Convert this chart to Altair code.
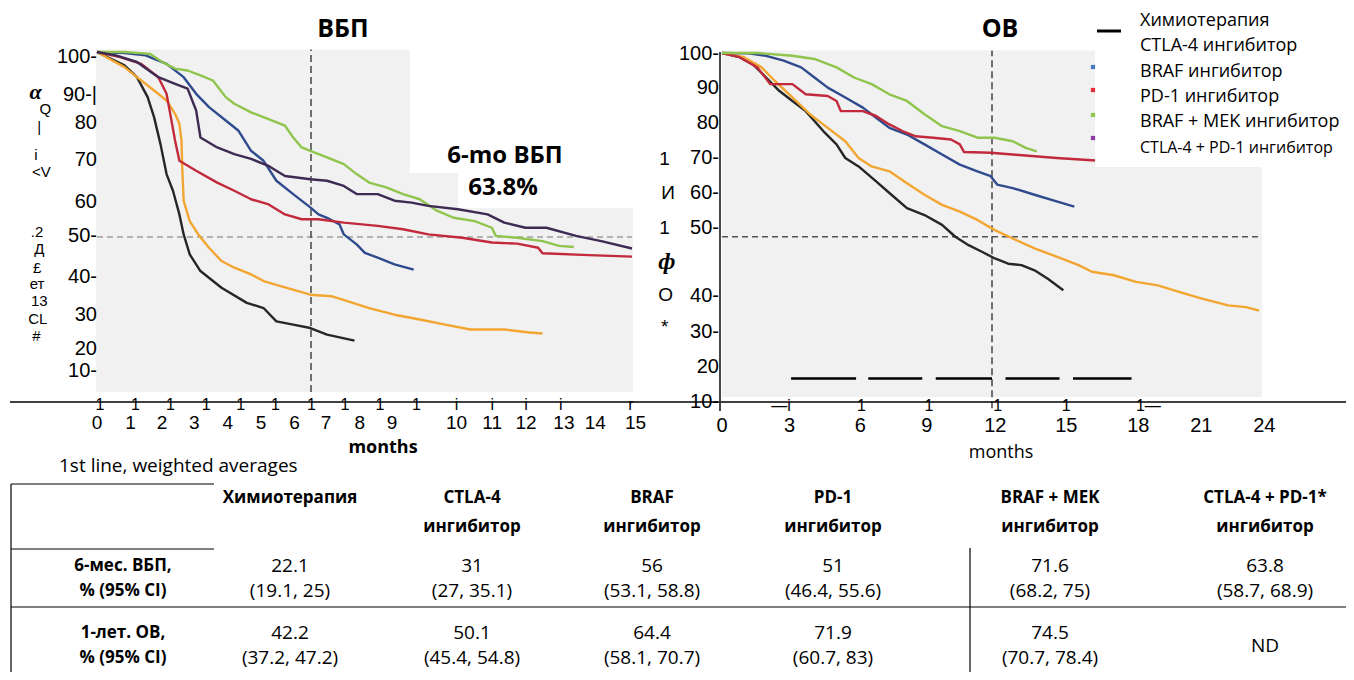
import altair as alt
import pandas as pd

# ---------------- data ----------------
SERIES = ["Химиотерапия", "CTLA-4 ингибитор", "BRAF ингибитор", "PD-1 ингибитор",
          "BRAF + MEK ингибитор", "CTLA-4 + PD-1 ингибитор"]
LINE_COLORS = ["#262626", "#f2a631", "#2f4b8e", "#c22a3c", "#8fc44d", "#3e2b54"]
MARKER_COLORS = ["#4a78c0", "#e0303a", "#92c850", "#8a3aa0"]

# ВБП (PFS), months / %
PFS_CHEMO_M = [0, 0.77, 1.12, 1.42, 1.60, 1.78, 1.95, 2.13, 2.31, 2.43, 2.60, 2.90, 3.49, 4.20, 4.67, 5.03, 5.50, 5.98, 6.45, 7.22]
PFS_CHEMO_V = [100, 96.4, 93.2, 87.8, 82.4, 75.1, 67.0, 62.5, 56.1, 50.7, 45.3, 40.8, 36.3, 32.2, 30.8, 27.2, 26.3, 25.4, 23.6, 22.0]
PFS_CTLA4_M = [0, 0.77, 1.12, 1.60, 1.95, 2.19, 2.31, 2.37, 2.39, 2.43, 2.60, 2.84, 3.14, 3.49, 3.85, 4.32, 4.67, 5.15, 5.98, 6.57, 7.04, 7.63, 8.34, 9.05, 9.76, 10.47, 11.42, 12.13, 12.49]
PFS_CTLA4_V = [100, 95.9, 93.2, 89.6, 86.9, 83.3, 80.6, 76.0, 68.8, 59.8, 54.3, 50.7, 47.1, 43.5, 41.7, 39.9, 38.1, 36.7, 34.4, 34.0, 32.6, 30.8, 29.0, 27.7, 26.3, 25.0, 25.0, 24.2, 23.9]
PFS_BRAF_M = [0, 0.77, 1.36, 1.95, 2.43, 2.78, 3.14, 3.61, 3.96, 4.32, 4.67, 5.03, 5.50, 5.98, 6.21, 6.45, 6.80, 6.92, 7.28, 7.51, 7.87, 8.34, 8.88]
PFS_BRAF_V = [100, 99.7, 99.1, 96.8, 93.2, 88.7, 85.1, 81.5, 78.8, 73.3, 70.6, 65.2, 61.6, 58.0, 56.1, 55.2, 53.4, 50.7, 48.0, 45.7, 44.4, 42.6, 41.2]
PFS_PD1_M = [0, 0.65, 1.24, 1.72, 1.95, 2.07, 2.19, 2.31, 2.78, 3.37, 3.85, 4.32, 4.79, 5.27, 5.74, 6.21, 6.92, 7.87, 8.58, 9.29, 10.24, 11.07, 11.78, 12.37, 12.49, 13.79, 15.0]
PFS_PD1_V = [100, 98.6, 96.8, 93.2, 88.7, 82.4, 76.0, 70.6, 67.9, 64.7, 62.5, 60.2, 58.9, 56.1, 54.8, 54.8, 53.9, 53.0, 52.1, 50.7, 49.8, 48.5, 48.2, 47.1, 45.6, 45.1, 44.7]
PFS_BRAFMEK_M = [0, 0.77, 1.48, 1.83, 2.19, 2.54, 2.90, 3.25, 3.61, 3.85, 4.32, 4.79, 5.27, 5.50, 5.74, 5.98, 6.45, 6.92, 7.28, 7.63, 8.11, 8.58, 9.05, 9.53, 10.0, 10.59, 11.07, 11.18, 11.78, 12.49, 12.96, 13.37]
PFS_BRAFMEK_V = [100, 100, 99.5, 97.3, 95.5, 95.0, 93.7, 92.3, 87.8, 86.0, 83.7, 81.9, 80.1, 76.9, 74.2, 73.3, 71.5, 69.7, 67.0, 64.7, 63.4, 61.6, 60.2, 57.1, 55.2, 54.3, 52.5, 50.3, 49.8, 48.9, 47.6, 47.3]
PFS_COMBO_M = [0, 0.53, 1.12, 1.72, 2.19, 2.54, 2.78, 2.90, 3.37, 3.85, 4.32, 4.79, 5.27, 5.98, 6.45, 6.92, 7.28, 7.87, 8.34, 8.82, 9.29, 10.12, 10.95, 11.42, 12.01, 12.60, 13.43, 14.14, 15.0]
PFS_COMBO_V = [100, 99.1, 97.3, 93.2, 91.4, 90.1, 84.2, 76.9, 74.2, 72.4, 71.1, 69.3, 66.5, 65.6, 65.2, 63.8, 61.6, 61.6, 59.8, 59.3, 58.4, 57.5, 56.1, 53.9, 52.5, 52.5, 50.3, 48.9, 46.9]

# ОВ (OS), months / %
OS_CHEMO_M = [0, 0.78, 1.37, 1.96, 2.54, 3.13, 3.72, 4.50, 5.09, 5.48, 6.07, 6.85, 7.44, 8.22, 9.0, 9.78, 10.37, 10.96, 11.55, 12.13, 12.72, 13.31, 13.89, 14.48, 15.17]
OS_CHEMO_V = [100, 98.8, 96.8, 93.0, 89.2, 86.3, 83.4, 77.7, 73.9, 70.0, 67.6, 63.3, 60.0, 55.7, 53.7, 50.9, 47.5, 45.1, 43.2, 41.3, 39.8, 39.4, 37.9, 35.5, 32.2]
OS_CTLA4_M = [0, 0.98, 1.76, 2.35, 3.13, 3.91, 4.70, 5.48, 6.07, 6.65, 7.44, 8.22, 9.0, 9.78, 10.57, 11.35, 12.13, 12.92, 13.89, 14.87, 15.85, 16.44, 17.42, 18.40, 19.37, 20.35, 21.33, 22.50, 23.29, 23.87]
OS_CTLA4_V = [100, 98.8, 95.9, 92.0, 87.3, 82.5, 78.6, 74.8, 70.0, 67.6, 66.2, 62.8, 59.5, 56.6, 54.7, 52.3, 49.4, 47.0, 44.2, 41.8, 39.4, 37.5, 36.5, 34.6, 33.6, 31.7, 29.8, 27.9, 27.4, 26.4]
OS_BRAF_M = [0, 1.17, 1.96, 2.74, 3.52, 4.11, 4.70, 5.48, 6.26, 6.85, 7.44, 8.22, 9.0, 9.78, 10.57, 11.35, 11.94, 12.23, 12.92, 13.89, 14.87, 15.66]
OS_BRAF_V = [100, 99.9, 99.2, 97.8, 95.9, 93.0, 90.1, 87.3, 84.4, 81.5, 78.6, 76.7, 73.9, 71.0, 68.1, 66.2, 64.8, 62.4, 61.4, 59.5, 57.6, 56.1]
OS_PD1_M = [0, 0.78, 1.57, 2.15, 3.13, 3.72, 4.70, 5.09, 5.28, 6.26, 6.85, 7.44, 8.02, 8.61, 9.39, 10.18, 10.57, 10.76, 11.94, 12.92, 14.87, 16.6]
OS_PD1_V = [100, 98.8, 95.9, 91.1, 91.1, 88.2, 87.7, 86.3, 83.4, 83.4, 82.0, 79.6, 77.7, 76.2, 75.8, 75.3, 73.9, 71.7, 71.5, 71.0, 70.0, 69.3]
OS_BRAFMEK_M = [0, 1.57, 3.13, 4.11, 5.09, 5.87, 6.65, 7.44, 8.22, 9.0, 9.78, 10.57, 11.35, 12.13, 12.92, 13.50, 13.99]
OS_BRAFMEK_V = [100, 100, 99.2, 98.3, 95.9, 93.0, 91.1, 88.2, 86.3, 82.5, 79.1, 77.7, 75.8, 75.8, 74.8, 72.9, 71.9]

# axis tick labels (as they appear in the picture)
L_X_LABELS = [str(i) for i in range(16)]
L_X_LABEL_POS = [0, 0.94, 1.82, 2.73, 3.67, 4.6, 5.54, 6.42, 7.37, 8.27, 10.08, 11.08, 12.03, 13.09, 13.97, 15.1]
L_X_MARKS = ["1"] * 10 + ["i"] * 4 + ["r"]
L_X_MARK_POS = [0.08, 1.08, 2.06, 3.06, 4.03, 5.0, 6.01, 6.95, 7.93, 8.96, 10.08, 11.08, 12.03, 13.0, 14.97]
L_Y_LABELS = ["100-", "90-|", "80", "70", "60", "50-", "40-", "30", "20", "10-"]
L_Y_LABEL_POS = [98.6, 88.4, 80.7, 70.8, 59.5, 50.2, 39.3, 28.9, 19.6, 13.9]
L_GLYPHS = ["Q", "|", "i", "<V", ".2", "Д", "£", "ет", "13", "CL", "#"]
L_GLYPH_M = [-1.45, -1.62, -1.71, -1.56, -1.68, -1.62, -1.68, -1.68, -1.62, -1.66, -1.7]
L_GLYPH_V = [84.6, 79.6, 72.2, 67.6, 51.4, 46.8, 41.6, 37.2, 32.6, 27.9, 23.2]

R_X_LABELS = ["0", "3", "6", "9", "12", "15", "18", "21", "24"]
R_X_LABEL_POS = [0, 3.0, 6.15, 9.1, 12.15, 15.3, 18.5, 21.3, 24.1]
R_X_MARKS = ["—i", "1", "1", "1", "1", "1—"]
R_X_MARK_POS = [2.62, 6.2, 9.2, 12.25, 15.3, 18.95]
R_Y_LABELS = ["100-", "90", "80", "70-", "60-", "50-", "40-", "30-", "20", "10-"]
R_Y_LABEL_POS = [99.6, 89.9, 79.9, 69.9, 60.1, 49.9, 30.6, 20.4, 10.4, 0.2]
R_GLYPHS = ["1", "И", "1", "О", "*"]
R_GLYPH_M = [-2.55, -2.4, -2.55, -2.5, -2.55]
R_GLYPH_V = [69.8, 60.1, 49.9, 30.8, 21.8]
R_DASH_M1 = [3.07, 6.5, 9.5, 12.6, 15.6]
R_DASH_M2 = [5.96, 8.9, 12.0, 15.0, 18.2]

TABLE_HEAD_1 = ["Химиотерапия", "CTLA-4", "BRAF", "PD-1", "BRAF + MEK", "CTLA-4 + PD-1*"]
TABLE_HEAD_2 = ["", "ингибитор", "ингибитор", "ингибитор", "ингибитор", "ингибитор"]
ROW_LABELS = ["6-мес. ВБП,", "% (95% CI)", "1-лет. ОВ,", "% (95% CI)"]
PFS6 = ["22.1", "31", "56", "51", "71.6", "63.8"]
PFS6_CI = ["(19.1, 25)", "(27, 35.1)", "(53.1, 58.8)", "(46.4, 55.6)", "(68.2, 75)", "(58.7, 68.9)"]
OS12 = ["42.2", "50.1", "64.4", "71.9", "74.5", "ND"]
OS12_CI = ["(37.2, 47.2)", "(45.4, 54.8)", "(58.1, 70.7)", "(60.7, 83)", "(70.7, 78.4)", ""]

# ---------------- layout ----------------
OFF = 8
W, H = 1338, 664
NARROW = "Liberation Sans Narrow, Arial Narrow, Liberation Sans, sans-serif"
SANS = "Open Sans, Noto Sans, sans-serif"


def lin(d0, d1, r0, r1):
    return alt.Scale(domain=[d0, d1], range=[r0 - OFF, r1 - OFF], nice=False, zero=False)


LX = lin(0, 15, 97, 632)
LY = lin(0, 100, 422, 52)
RX = lin(0, 24, 722, 1262)
RY = lin(0, 100, 403, 53)
PX = lin(0, 1354, 0, 1354)
PY = lin(0, 680, 0, 680)

COL_X = [290, 472, 652, 833, 1050, 1265]
LABEL_X = 123
Y_HEAD = (498, 527)
Y_ROW1 = (566, 591)
Y_ROW2 = (633, 658)
LEG_X = 1140
LEG_Y = [21, 46, 72, 97, 122, 148]
MARK_Y = [67, 90, 115, 138]


def X(f, s):
    return alt.X(f"{f}:Q", scale=s, axis=None)


def Y(f, s):
    return alt.Y(f"{f}:Q", scale=s, axis=None)


def curves(ms, vs):
    rows = []
    for name, m, v in zip(SERIES, ms, vs):
        for i, (a, b) in enumerate(zip(m, v)):
            rows.append({"s": name, "m": a, "v": b, "o": i})
    return pd.DataFrame(rows)


pfs = curves([PFS_CHEMO_M, PFS_CTLA4_M, PFS_BRAF_M, PFS_PD1_M, PFS_BRAFMEK_M, PFS_COMBO_M],
             [PFS_CHEMO_V, PFS_CTLA4_V, PFS_BRAF_V, PFS_PD1_V, PFS_BRAFMEK_V, PFS_COMBO_V])
os_ = curves([OS_CHEMO_M, OS_CTLA4_M, OS_BRAF_M, OS_PD1_M, OS_BRAFMEK_M],
             [OS_CHEMO_V, OS_CTLA4_V, OS_BRAF_V, OS_PD1_V, OS_BRAFMEK_V])

color = alt.Color("s:N", scale=alt.Scale(domain=SERIES, range=LINE_COLORS), legend=None)

layers = []

# backgrounds
bgL = pd.DataFrame({"m": [-0.03], "m2": [15.03], "v": [8.1], "v2": [100.7]})
layers.append(alt.Chart(bgL).mark_rect(color="#f1f1f1").encode(
    x=X("m", LX), x2="m2:Q", y=Y("v", LY), y2="v2:Q"))
wbL = pd.DataFrame({"m": [8.77, 10.13], "m2": [15.2, 15.2], "v": [67.3, 57.8], "v2": [101, 67.4]})
layers.append(alt.Chart(wbL).mark_rect(color="white").encode(
    x=X("m", LX), x2="m2:Q", y=Y("v", LY), y2="v2:Q"))
bgR = pd.DataFrame({"m": [0.0], "m2": [24.0], "v": [1.7], "v2": [100.7]})
layers.append(alt.Chart(bgR).mark_rect(color="#f1f1f1").encode(
    x=X("m", RX), x2="m2:Q", y=Y("v", RY), y2="v2:Q"))

# reference dashed lines
layers.append(alt.Chart(pd.DataFrame({"m": [0], "m2": [15], "v": [50]})).mark_rule(
    color="#777777", strokeWidth=1.2, strokeDash=[6, 4]).encode(x=X("m", LX), x2="m2:Q", y=Y("v", LY)))
layers.append(alt.Chart(pd.DataFrame({"m": [6], "v": [8.1], "v2": [100.7]})).mark_rule(
    color="#444444", strokeWidth=1.5, strokeDash=[7, 4]).encode(x=X("m", LX), y=Y("v", LY), y2="v2:Q"))
layers.append(alt.Chart(pd.DataFrame({"m": [0], "m2": [24], "v": [47.5]})).mark_rule(
    color="#555555", strokeWidth=1.5, strokeDash=[6, 4]).encode(x=X("m", RX), x2="m2:Q", y=Y("v", RY)))
layers.append(alt.Chart(pd.DataFrame({"m": [12], "v": [-1.5], "v2": [100.7]})).mark_rule(
    color="#444444", strokeWidth=1.5, strokeDash=[7, 4]).encode(x=X("m", RX), y=Y("v", RY), y2="v2:Q"))

# curves
layers.append(alt.Chart(pfs).mark_line(strokeWidth=2.4, strokeJoin="round").encode(
    x=X("m", LX), y=Y("v", LY), color=color, detail="s:N", order="o:Q"))
layers.append(alt.Chart(os_).mark_line(strokeWidth=2.4, strokeJoin="round").encode(
    x=X("m", RX), y=Y("v", RY), color=color, detail="s:N", order="o:Q"))

# legend white box over right panel
layers.append(alt.Chart(pd.DataFrame({"m": [16.58], "m2": [30], "v": [67.4], "v2": [101]})).mark_rect(
    color="white").encode(x=X("m", RX), x2="m2:Q", y=Y("v", RY), y2="v2:Q"))

# black dashes near bottom of right panel
layers.append(alt.Chart(pd.DataFrame({"m": R_DASH_M1, "m2": R_DASH_M2, "v": [7.0] * 5})).mark_rule(
    color="black", strokeWidth=2.5).encode(x=X("m", RX), x2="m2:Q", y=Y("v", RY)))

# axis lines
layers.append(alt.Chart(pd.DataFrame({"x": [10], "x2": [1354], "y": [402]})).mark_rule(
    color="black", strokeWidth=1.3).encode(x=X("x", PX), x2="x2:Q", y=Y("y", PY)))
layers.append(alt.Chart(pd.DataFrame({"x": [720], "y": [52], "y2": [411]})).mark_rule(
    color="#333333", strokeWidth=1.8).encode(x=X("x", PX), y=Y("y", PY), y2="y2:Q"))

# tick labels
layers.append(alt.Chart(pd.DataFrame({"t": L_X_LABELS, "m": L_X_LABEL_POS})).mark_text(
    font=NARROW, fontSize=19, baseline="middle").encode(x=X("m", LX), y=alt.value(423 - OFF), text="t:N"))
layers.append(alt.Chart(pd.DataFrame({"t": L_X_MARKS, "m": L_X_MARK_POS})).mark_text(
    font=NARROW, fontSize=16, baseline="middle").encode(x=X("m", LX), y=alt.value(405 - OFF), text="t:N"))
layers.append(alt.Chart(pd.DataFrame({"t": L_Y_LABELS, "v": L_Y_LABEL_POS})).mark_text(
    font=NARROW, fontSize=20, baseline="middle", align="right").encode(
    x=alt.value(97 - OFF), y=Y("v", LY), text="t:N"))
layers.append(alt.Chart(pd.DataFrame({"t": R_X_LABELS, "m": R_X_LABEL_POS})).mark_text(
    font=NARROW, fontSize=20, baseline="middle").encode(x=X("m", RX), y=alt.value(426 - OFF), text="t:N"))
layers.append(alt.Chart(pd.DataFrame({"t": R_X_MARKS, "m": R_X_MARK_POS})).mark_text(
    font=NARROW, fontSize=16, baseline="middle").encode(x=X("m", RX), y=alt.value(406 - OFF), text="t:N"))
layers.append(alt.Chart(pd.DataFrame({"t": R_Y_LABELS, "v": R_Y_LABEL_POS})).mark_text(
    font=NARROW, fontSize=20, baseline="middle", align="right").encode(
    x=alt.value(719 - OFF), y=Y("v", RY), text="t:N"))

# garbled axis-title glyphs
layers.append(alt.Chart(pd.DataFrame({"t": L_GLYPHS, "m": L_GLYPH_M, "v": L_GLYPH_V})).mark_text(
    font="Liberation Sans, sans-serif", fontSize=15, baseline="middle").encode(
    x=X("m", LX), y=Y("v", LY), text="t:N"))
layers.append(alt.Chart(pd.DataFrame({"t": ["α"], "m": [-1.72], "v": [89.2]})).mark_text(
    font="Liberation Serif, serif", fontSize=22, fontWeight="bold", fontStyle="italic", baseline="middle").encode(
    x=X("m", LX), y=Y("v", LY), text="t:N"))
layers.append(alt.Chart(pd.DataFrame({"t": R_GLYPHS, "m": R_GLYPH_M, "v": R_GLYPH_V})).mark_text(
    font="Liberation Sans, sans-serif", fontSize=19, baseline="middle").encode(
    x=X("m", RX), y=Y("v", RY), text="t:N"))
layers.append(alt.Chart(pd.DataFrame({"t": ["ф"], "m": [-2.45], "v": [40.4]})).mark_text(
    font="Liberation Serif, serif", fontSize=24, fontWeight="bold", fontStyle="italic", baseline="middle").encode(
    x=X("m", RX), y=Y("v", RY), text="t:N"))

# titles / annotations
layers.append(alt.Chart(pd.DataFrame({"t": ["ВБП", "ОВ"], "x": [343, 1000], "y": [29, 29]})).mark_text(
    font=SANS, fontSize=25, fontWeight="bold", baseline="middle").encode(
    x=X("x", PX), y=Y("y", PY), text="t:N"))
layers.append(alt.Chart(pd.DataFrame({"t": ["6-mo ВБП", "63.8%"], "x": [505, 503], "y": [156, 188]})).mark_text(
    font=SANS, fontSize=24, fontWeight="bold", baseline="middle").encode(
    x=X("x", PX), y=Y("y", PY), text="t:N"))
layers.append(alt.Chart(pd.DataFrame({"t": ["months"], "x": [383], "y": [448]})).mark_text(
    font=SANS, fontSize=18, fontWeight="bold", baseline="middle").encode(x=X("x", PX), y=Y("y", PY), text="t:N"))
layers.append(alt.Chart(pd.DataFrame({"t": ["months"], "x": [1001], "y": [453]})).mark_text(
    font=SANS, fontSize=18, baseline="middle").encode(x=X("x", PX), y=Y("y", PY), text="t:N"))
layers.append(alt.Chart(pd.DataFrame({"t": ["1st line, weighted averages"], "x": [59], "y": [466]})).mark_text(
    font=SANS, fontSize=19, baseline="middle", align="left").encode(x=X("x", PX), y=Y("y", PY), text="t:N"))

# legend
leg = pd.DataFrame({"t": SERIES[:5], "y": LEG_Y[:5]})
layers.append(alt.Chart(leg).mark_text(font=SANS, fontSize=18, baseline="middle", align="left").encode(
    x=alt.value(LEG_X - OFF), y=Y("y", PY), text="t:N"))
layers.append(alt.Chart(pd.DataFrame({"t": SERIES[5:], "y": LEG_Y[5:]})).mark_text(
    font=SANS, fontSize=16, baseline="middle", align="left").encode(
    x=alt.value(LEG_X - OFF), y=Y("y", PY), text="t:N"))
layers.append(alt.Chart(pd.DataFrame({"x": [1097], "x2": [1121], "y": [31]})).mark_rule(
    color="black", strokeWidth=3).encode(x=X("x", PX), x2="x2:Q", y=Y("y", PY)))
mk = pd.DataFrame({"s": SERIES[2:], "y": MARK_Y})
layers.append(alt.Chart(mk).mark_square(size=18, opacity=1).encode(
    x=alt.value(1093 - OFF), y=Y("y", PY),
    color=alt.Color("s:N", scale=alt.Scale(domain=SERIES[2:], range=MARKER_COLORS), legend=None)))

# table
bold_rows = []
for cx, h1, h2 in zip(COL_X, TABLE_HEAD_1, TABLE_HEAD_2):
    bold_rows.append({"t": h1, "x": cx, "y": Y_HEAD[0]})
    if h2:
        bold_rows.append({"t": h2, "x": cx, "y": Y_HEAD[1]})
for t, yy in zip(ROW_LABELS, [Y_ROW1[0], Y_ROW1[1], Y_ROW2[0], Y_ROW2[1]]):
    bold_rows.append({"t": t, "x": LABEL_X, "y": yy})
layers.append(alt.Chart(pd.DataFrame(bold_rows)).mark_text(
    font=SANS, fontSize=17, fontWeight="bold", baseline="middle").encode(
    x=X("x", PX), y=Y("y", PY), text="t:N"))

reg_rows = []
for cx, a, b in zip(COL_X, PFS6, PFS6_CI):
    reg_rows.append({"t": a, "x": cx, "y": Y_ROW1[0]})
    reg_rows.append({"t": b, "x": cx, "y": Y_ROW1[1]})
for cx, a, b in zip(COL_X, OS12, OS12_CI):
    if b:
        reg_rows.append({"t": a, "x": cx, "y": Y_ROW2[0]})
        reg_rows.append({"t": b, "x": cx, "y": Y_ROW2[1]})
    else:
        reg_rows.append({"t": a, "x": cx, "y": (Y_ROW2[0] + Y_ROW2[1]) / 2})
layers.append(alt.Chart(pd.DataFrame(reg_rows)).mark_text(
    font=SANS, fontSize=19, baseline="middle").encode(
    x=X("x", PX), y=Y("y", PY), text="t:N"))

table_lines = pd.DataFrame({
    "x": [11, 11, 11, 11, 970],
    "x2": [214, 214, 1354, 11, 970],
    "y": [484, 549, 607, 484, 548],
    "y2": [484, 549, 607, 680, 680],
})
layers.append(alt.Chart(table_lines).mark_rule(color="black", strokeWidth=1.2).encode(
    x=X("x", PX), x2="x2:Q", y=Y("y", PY), y2="y2:Q"))

chart = alt.layer(*layers).resolve_scale(
    x="independent", y="independent", color="independent"
).properties(
    width=W, height=H, padding=0, autosize=alt.AutoSizeParams(type="none"), background="white"
).configure_view(stroke=None)

chart.save("out.html", embed_options={"renderer": "svg", "actions": False})
